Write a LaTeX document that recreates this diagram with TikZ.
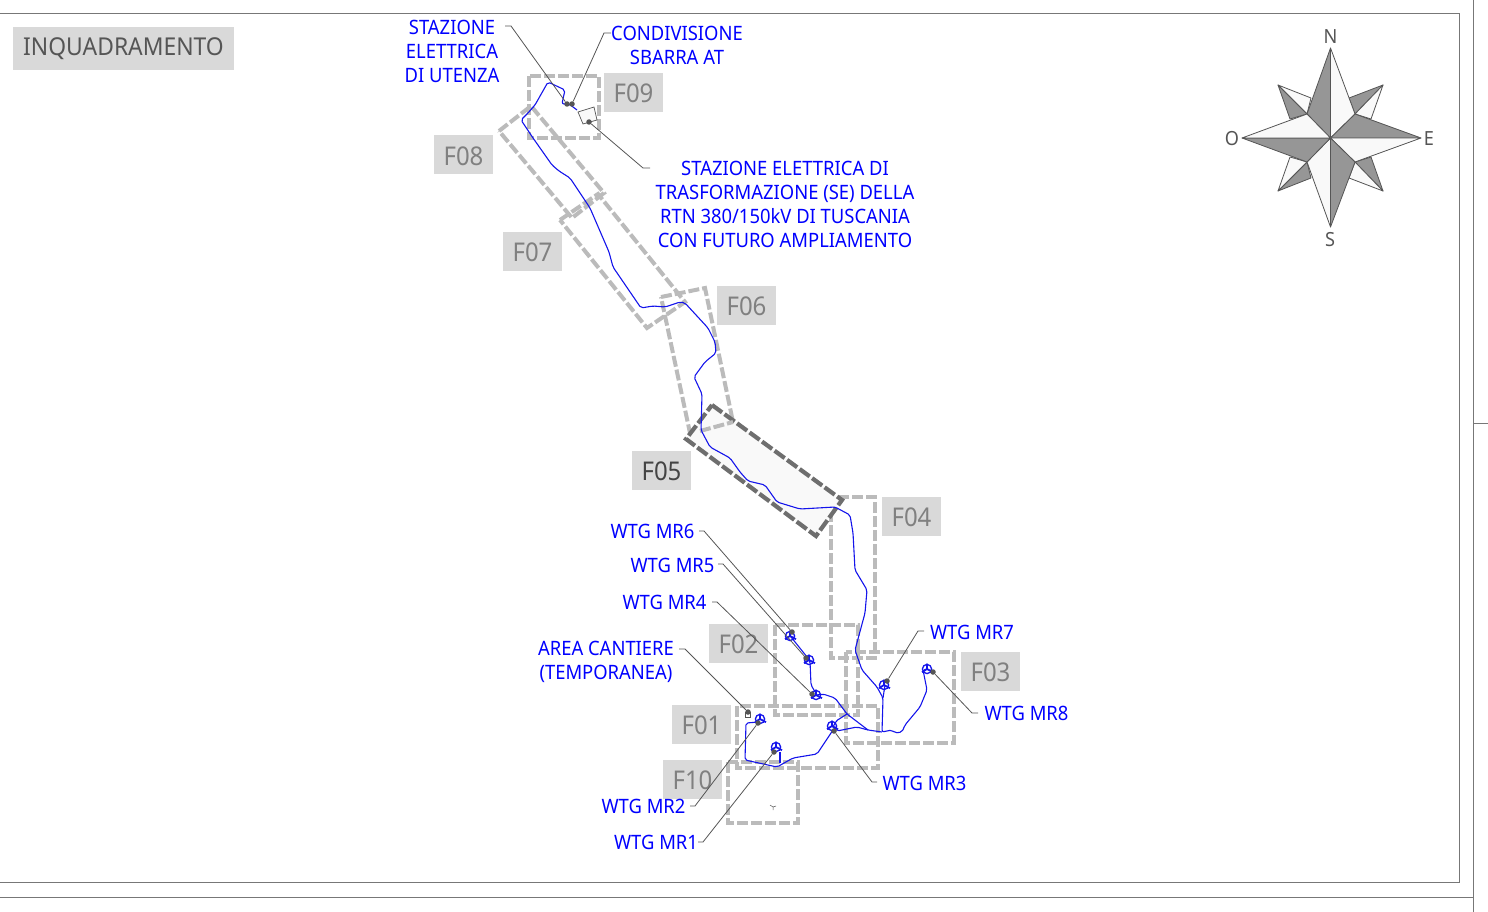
\documentclass[tikz,border=0pt]{standalone}
\usepackage{fontspec}
\setmainfont{Noto Sans}[FakeStretch=0.93]
\definecolor{lblue}{RGB}{0,0,255}
\definecolor{route}{RGB}{20,20,235}
\definecolor{fr}{RGB}{187,187,187}
\definecolor{frd}{RGB}{110,110,110}
\definecolor{boxg}{RGB}{217,217,217}
\definecolor{lead}{RGB}{85,85,85}
\definecolor{rosed}{RGB}{150,150,150}
\definecolor{pale}{RGB}{249,249,249}
\tikzset{
 lab/.style={text=lblue,font=\fontsize{19.8}{24}\selectfont,align=center,inner sep=0pt},
 tag/.style={fill=boxg,text=rosed!85!black,font=\fontsize{25.8}{24}\selectfont,minimum width=59pt,minimum height=39pt,inner sep=0pt,text height=20.6pt,text depth=0pt},
 frame/.style={draw=fr,line width=4pt,dash pattern=on 11pt off 3pt},
 framed/.style={draw=frd,line width=4.2pt,dash pattern=on 12.5pt off 3pt,fill=pale},
 leader/.style={draw=lead,line width=0.8pt},
 dot/.style={circle,fill=lead,inner sep=0pt,minimum size=5.5pt},
 routeline/.style={draw=route,line width=1.1pt,line join=round,rounded corners=2pt},
 hub/.style={circle,inner sep=0pt,minimum size=2pt,fill=route},
 blade/.style={draw=route,line width=1.8pt},
 rose/.style={draw=lead,line width=0.8pt,line join=round},
 rosel/.style={text=lead,font=\fontsize{19.5}{18}\selectfont,inner sep=0pt},
 sheet/.style={draw=lead!80,line width=0.8pt}
}
\newcommand{\wtg}[3]{%
 \node[hub] (#1) at (#2,#3) {};
 \draw[route,line width=1.3pt] (#2,#3) circle (4.6);
 \draw[blade] (#1.center) -- ++(0,-5.5) (#1.center) -- ++(6,3.2) (#1.center) -- ++(-5,3.2);
}
\begin{document}
\begin{tikzpicture}[x=1pt,y=-1pt]
\useasboundingbox (0,0) rectangle (1488,912);
% sheet
\coordinate (s1) at (0,13); \coordinate (s2) at (1459,13); \coordinate (s3) at (1459,882); \coordinate (s4) at (0,882);
\draw[sheet] (s1) -- (s2) -- (s3) -- (s4);
\coordinate (t1) at (1473,0); \coordinate (t2) at (1473,912); \coordinate (t3) at (0,897); \coordinate (t4) at (1473,897);
\coordinate (t5) at (1488,423); \coordinate (t6) at (1473,423);
\draw[sheet] (t1) -- (t2) (t3) -- (t4) (t5) -- (t6);
% title
\node[fill=boxg,text=lead,font=\fontsize{24.6}{24}\selectfont,minimum width=221pt,minimum height=43pt,inner sep=0pt] (title) at (123.5,48.5) {INQUADRAMENTO};
% frames
\draw[frame] (499,131) -- (531,106) -- (604,193) -- (572,218) -- cycle;
\draw[frame] (560,220) -- (598,194) -- (685,302) -- (647,328) -- cycle;
\draw[frame] (529,76) rectangle (599,138);
\draw[frame] (661,297) -- (705,288) -- (733,422) -- (690,433) -- cycle;
\draw[frame] (831,497) rectangle (875,658);
\draw[framed] (712,405) -- (842,500) -- (816,536) -- (686,439) -- cycle;
\draw[frame] (700,431) -- (733,422);
\draw[frame] (775,625) rectangle (858,715);
\draw[frame] (846,652) rectangle (954,743);
\draw[frame] (737,706) rectangle (878,768);
\draw[frame] (728,762) rectangle (798,823);
% tags
\node[tag] (f09) at (633.5,92.5) {F09};
\node[tag] (f08) at (463.5,155) {F08};
\node[tag] (f07) at (532.5,251.5) {F07};
\node[tag] (f06) at (746.5,305.5) {F06};
\node[tag,text=lead!80!black] (f05) at (661.5,470.5) {F05};
\node[tag] (f04) at (911.5,516.5) {F04};
\node[tag] (f03) at (990.5,671.5) {F03};
\node[tag] (f02) at (738.5,643.5) {F02};
\node[tag] (f01) at (701.5,724.5) {F01};
\node[tag] (f10) at (692.5,779.5) {F10};
% substation
\draw[draw=lead,fill=pale,line width=0.7pt] (578,112) -- (594,107) -- (597,120) -- (583,124) -- cycle;
% area cantiere square
\node[draw=lead,fill=white,line width=0.6pt,minimum size=5pt,inner sep=0pt] (ac) at (748,715) {};
% F10 mark
\draw[lead,line width=0.5pt] (773,807) -- ++(-3,-2) (773,807) -- ++(3,-1) (773,807) -- ++(0,3);
% route
\draw[routeline] (577,110) -- (573,107) -- (569,104) -- (562,104) -- (563,99) -- (565,90) -- (548,82) -- (535,105) -- (528,113) -- (521,120) -- (533,138) -- (552,165) -- (559,171) -- (570,178) -- (590,208) -- (609,252) -- (613,267) -- (641,308) -- (653,306) -- (665,307) -- (680,302) -- (685,303) -- (708,328) -- (715,342) -- (716,353) -- (705,362) -- (694,377) -- (702,394) -- (701,430) -- (710,447) -- (730,458) -- (740,472) -- (748,481) -- (765,485) -- (777,502) -- (800,509) -- (835,507) -- (850,515) -- (853,533) -- (855,570) -- (867,590) -- (865,613) -- (855,650) -- (862,670) -- (877,687) -- (883,698) -- (882,732) -- (892,730) -- (895,733) -- (902,732) -- (905,725) -- (920,707) -- (927,690) -- (923,670) -- (928,669);
\draw[routeline] (883,698) -- (885,685);
\draw[routeline] (882,732) -- (868,730) -- (857,727) -- (837,731) -- (833,727);
\draw[routeline] (868,730) -- (847,714) -- (835,698) -- (823,694) -- (817,695);
\draw[routeline] (847,714) -- (836,721) -- (833,727);
\draw[routeline] (817,695) -- (811,685) -- (810,661) -- (807,657) -- (791,637);
\draw[routeline] (833,730) -- (817,754) -- (793,758) -- (777,767) -- (745,760) -- (746,723) -- (759,722);
\draw[routeline] (780,752) -- (780,763);
% turbines
\wtg{w6}{790}{636}
\wtg{w5}{809}{660}
\wtg{w4}{816}{695}
\wtg{w3}{832}{726}
\wtg{w2}{760}{719}
\wtg{w1}{776}{747}
\wtg{w7}{884}{685}
\wtg{w8}{927}{669}
% labels
\node[lab] (lsta) at (452,51) {STAZIONE\\ELETTRICA\\DI UTENZA};
\node[lab] (lcon) at (677,45) {CONDIVISIONE\\SBARRA AT};
\node[lab] (lse) at (785,204) {STAZIONE ELETTRICA DI\\TRASFORMAZIONE (SE) DELLA\\RTN 380/150kV DI TUSCANIA\\CON FUTURO AMPLIAMENTO};
\node[lab] (lac) at (606,661.5) {AREA CANTIERE\\(TEMPORANEA)};
\node[lab] (l6) at (652.5,531) {WTG MR6};
\node[lab] (l5) at (672.5,565) {WTG MR5};
\node[lab] (l4) at (664.5,602) {WTG MR4};
\node[lab] (l3) at (924.5,783) {WTG MR3};
\node[lab] (l2) at (643.5,806) {WTG MR2};
\node[lab] (l1) at (656,842) {WTG MR1};
\node[lab] (l7) at (972,632) {WTG MR7};
\node[lab] (l8) at (1026.5,713) {WTG MR8};
% leaders
\node[dot] (dsta) at (567,104) {};
\node[dot] (dcon) at (572,104) {};
\node[dot] (dse) at (589,122) {};
\node[dot] (d6) at (792,632) {};
\node[dot] (d5) at (806,658) {};
\node[dot] (d4) at (812,694) {};
\node[dot] (dac) at (748,712) {};
\node[dot] (d3) at (834,731) {};
\node[dot] (d2) at (758,723) {};
\node[dot] (d1) at (774,752) {};
\node[dot] (d7) at (887,681) {};
\node[dot] (d8) at (933,672) {};
\coordinate (ksta) at (511,26); \coordinate (esta) at (505,26);
\coordinate (kcon) at (604,33); \coordinate (econ) at (611,33);
\coordinate (kse) at (643,168); \coordinate (ese) at (650,168);
\coordinate (k6) at (704,531); \coordinate (e6) at (699,531);
\coordinate (k5) at (723,564); \coordinate (e5) at (718,564);
\coordinate (k4) at (717,602); \coordinate (e4) at (712,602);
\coordinate (kac) at (685,649); \coordinate (eac) at (679,649);
\coordinate (k3) at (872,782); \coordinate (e3) at (877,782);
\coordinate (k2) at (695,806); \coordinate (e2) at (690,806);
\coordinate (k1) at (703,842); \coordinate (e1) at (698,842);
\coordinate (k7) at (918,631); \coordinate (e7) at (924,631);
\coordinate (k8) at (972,713); \coordinate (e8) at (978,713);
\draw[leader] (esta) -- (ksta) -- (dsta);
\draw[leader] (econ) -- (kcon) -- (dcon);
\draw[leader] (ese) -- (kse) -- (dse);
\draw[leader] (e6) -- (k6) -- (d6);
\draw[leader] (e5) -- (k5) -- (d5);
\draw[leader] (e4) -- (k4) -- (d4);
\draw[leader] (eac) -- (kac) -- (dac);
\draw[leader] (e3) -- (k3) -- (d3);
\draw[leader] (e2) -- (k2) -- (d2);
\draw[leader] (e1) -- (k1) -- (d1);
\draw[leader] (e7) -- (k7) -- (d7);
\draw[leader] (e8) -- (k8) -- (d8);
% compass
\coordinate (c) at (1330.5,138);
\coordinate (N) at (1330.5,48); \coordinate (S) at (1330.5,227); \coordinate (E) at (1421,138); \coordinate (W) at (1242,138);
\coordinate (ne) at (1383,85); \coordinate (nw) at (1278,85); \coordinate (se) at (1383,191); \coordinate (sw) at (1278,191);
\coordinate (ine) at (1355,114); \coordinate (inw) at (1307,114); \coordinate (ise) at (1355,162); \coordinate (isw) at (1307,162);
\draw[rose,fill=rosed] (ne) -- (1349,98) -- (ine) -- cycle;
\draw[rose,fill=pale] (ne) -- (1371,119) -- (ine) -- cycle;
\draw[rose,fill=pale] (nw) -- (1311,98) -- (inw) -- cycle;
\draw[rose,fill=rosed] (nw) -- (1290,119) -- (inw) -- cycle;
\draw[rose,fill=rosed] (se) -- (1371,157) -- (ise) -- cycle;
\draw[rose,fill=pale] (se) -- (1349,178) -- (ise) -- cycle;
\draw[rose,fill=rosed] (sw) -- (1311,178) -- (isw) -- cycle;
\draw[rose,fill=pale] (sw) -- (1290,157) -- (isw) -- cycle;
\draw[rose,fill=rosed] (c) -- (N) -- (inw) -- cycle;
\draw[rose,fill=pale] (c) -- (N) -- (ine) -- cycle;
\draw[rose,fill=rosed] (c) -- (E) -- (ine) -- cycle;
\draw[rose,fill=pale] (c) -- (E) -- (ise) -- cycle;
\draw[rose,fill=rosed] (c) -- (S) -- (ise) -- cycle;
\draw[rose,fill=pale] (c) -- (S) -- (isw) -- cycle;
\draw[rose,fill=rosed] (c) -- (W) -- (isw) -- cycle;
\draw[rose,fill=pale] (c) -- (W) -- (inw) -- cycle;
\node[rosel] (ln) at (1330.5,37) {N};
\node[rosel] (ls) at (1330,240) {S};
\node[rosel] (le) at (1429,139) {E};
\node[rosel] (lo) at (1232,139) {O};
\end{tikzpicture}
\end{document}
